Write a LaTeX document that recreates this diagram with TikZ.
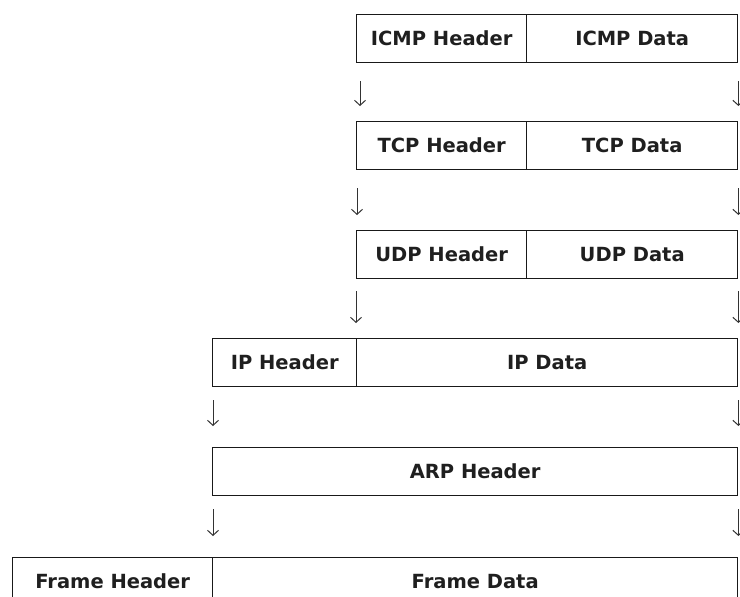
\documentclass[tikz,border=0pt]{standalone}
\usepackage{fontspec}
\setmainfont{DejaVu Sans}
\usetikzlibrary{arrows.meta}
\begin{document}
\begin{tikzpicture}[x=1pt,y=-1pt,
  cell/.style={draw=black!90,line width=1.4pt,anchor=north west,inner sep=0pt,
    minimum height=48pt,font=\fontsize{19.5}{21}\selectfont\bfseries,text=black!88},
  flow/.style={draw=black!80,line width=1pt,-{Straight Barb[length=5pt,width=11pt,line width=1pt]}}]
\clip (0,0) rectangle (740,597);
\fill[white] (0,0) rectangle (740,597);
% ICMP
\node[cell,minimum width=170pt] (icmph) at (356,14) {ICMP Header};
\node[cell,minimum width=211pt] (icmpd) at (526,14) {ICMP Data};
% TCP
\node[cell,minimum width=170pt] (tcph) at (356,121) {TCP Header};
\node[cell,minimum width=211pt] (tcpd) at (526,121) {TCP Data};
% UDP
\node[cell,minimum width=170pt] (udph) at (356,230) {UDP Header};
\node[cell,minimum width=211pt] (udpd) at (526,230) {UDP Data};
% IP
\node[cell,minimum width=144pt] (iph) at (212,338) {IP Header};
\node[cell,minimum width=381pt] (ipd) at (356,338) {IP Data};
% ARP
\node[cell,minimum width=525pt] (arp) at (212,447) {ARP Header};
% Frame
\node[cell,minimum width=200pt] (frh) at (12,557) {Frame Header};
\node[cell,minimum width=525pt] (frd) at (212,557) {Frame Data};
% connectors between layers
\draw[flow] ([xshift=4pt,yshift=-18pt]icmph.south west) -- ([xshift=4pt,yshift=15pt]tcph.north west);
\draw[flow] ([yshift=-18pt]icmpd.south east) -- ([yshift=15pt]tcpd.north east);
\draw[flow] ([xshift=1pt,yshift=-18pt]tcph.south west) -- ([xshift=1pt,yshift=15pt]udph.north west);
\draw[flow] ([yshift=-18pt]tcpd.south east) -- ([yshift=15pt]udpd.north east);
\draw[flow] ([xshift=0pt,yshift=-12pt]udph.south west) -- ([yshift=15pt]ipd.north west);
\draw[flow] ([yshift=-12pt]udpd.south east) -- ([yshift=15pt]ipd.north east);
\draw[flow] ([xshift=1pt,yshift=-13pt]iph.south west) -- ([xshift=1pt,yshift=21pt]arp.north west);
\draw[flow] ([yshift=-13pt]ipd.south east) -- ([yshift=21pt]arp.north east);
\draw[flow] ([xshift=1pt,yshift=-13pt]arp.south west) -- ([xshift=1pt,yshift=21pt]frd.north west);
\draw[flow] ([yshift=-13pt]arp.south east) -- ([yshift=21pt]frd.north east);
\end{tikzpicture}
\end{document}
